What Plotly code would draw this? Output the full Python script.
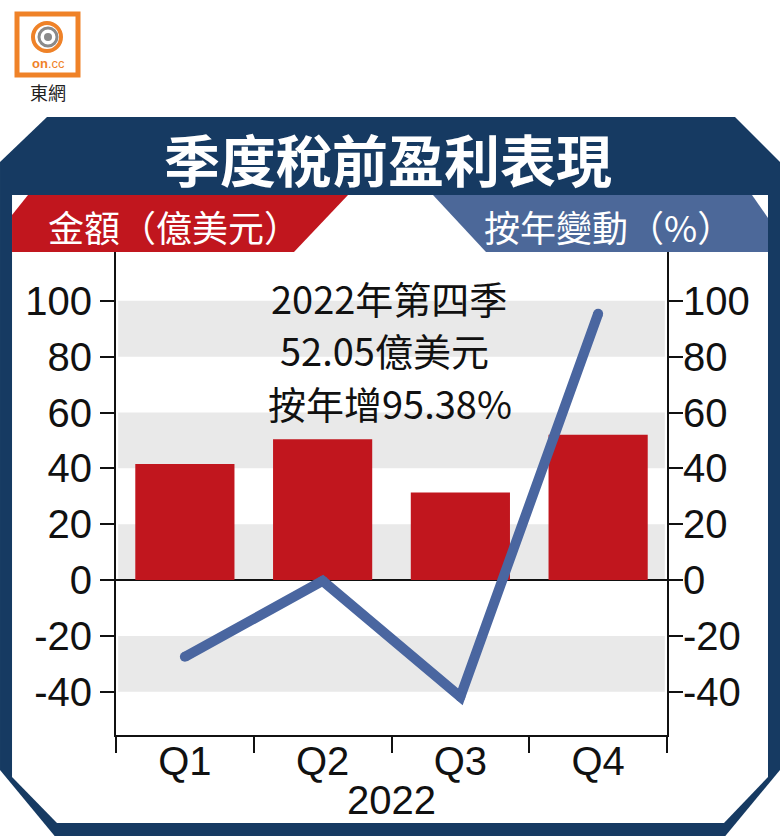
"""Quarterly pre-tax profit chart (on.cc style)."""

import plotly.graph_objects as go

# ---- data ----
QUARTERS = ["Q1", "Q2", "Q3", "Q4"]
PROFIT = [41.6, 50.4, 31.4, 52.05]          # 億美元
YOY_CHANGE = [-27.5, -0.3, -41.8, 95.38]     # %
Y_TICKS = [-40, -20, 0, 20, 40, 60, 80, 100]
Y_TICK_TEXT = [str(v) for v in Y_TICKS]
BANDS = [(-40, -20), (0, 20), (40, 60), (80, 100)]
YEAR = "2022"
TITLE = "季度稅前盈利表現"
LEFT_LABEL = "金額（億美元）"
RIGHT_LABEL = "按年變動（%）"
NOTE_LINES = ["2022年第四季", "52.05億美元", "按年增95.38%"]

NAVY = "#163a62"
RED = "#c1161e"
BANNER_BLUE = "#4c6899"
LINE_BLUE = "#4a66a0"
BAND = "#e9e9e9"
ORANGE = "#ef8228"

W, H = 780, 836
PL, PR, PT, PB = 116, 667, 252, 735
Y_RANGE = [-55.5, 117.5]

NUM_FONT = "Liberation Sans, Arial, sans-serif"
CJK_FONT = "Noto Sans CJK TC, sans-serif"


def px(x):
    return (x - PL) / (PR - PL)


def py(y):
    return (PB - y) / (PB - PT)


def poly(points):
    return "M " + " L ".join(f"{px(x):.4f},{py(y):.4f}" for x, y in points) + " Z"


fig = go.Figure()
fig.add_bar(x=QUARTERS, y=PROFIT, marker_color=RED, marker_line_width=0, width=0.72)
fig.add_scatter(
    x=QUARTERS, y=YOY_CHANGE, yaxis="y2", mode="lines+markers",
    line=dict(color=LINE_BLUE, width=10), marker=dict(color=LINE_BLUE, size=10),
)

shapes = [
    # frame
    dict(type="path", xref="paper", yref="paper", layer="below", line_width=0, fillcolor=NAVY,
         path=poly([(47, 117), (735, 117), (780, 162), (780, 770), (722, 840),
                    (58, 840), (0, 770), (0, 162)])),
    dict(type="path", xref="paper", yref="paper", layer="below", line_width=0, fillcolor="white",
         path=poly([(12, 195), (768, 195), (768, 777), (724, 823), (57, 823), (12, 777)])),
    # banners
    dict(type="path", xref="paper", yref="paper", line_width=0, fillcolor=RED,
         path=poly([(28, 195), (348, 195), (294, 252), (12, 252), (12, 215)])),
    dict(type="path", xref="paper", yref="paper", line_width=0, fillcolor=BANNER_BLUE,
         path=poly([(433, 195), (752, 195), (768, 218), (768, 252), (486, 252)])),
    # logo
    dict(type="rect", xref="paper", yref="paper", line=dict(color=ORANGE, width=5),
         fillcolor="white", x0=px(17), x1=px(78), y0=py(75), y1=py(14)),
    dict(type="circle", xref="paper", yref="paper", line=dict(color=ORANGE, width=4),
         x0=px(33), x1=px(61), y0=py(51), y1=py(23)),
    dict(type="circle", xref="paper", yref="paper", line=dict(color="#8a8a8a", width=3),
         x0=px(39), x1=px(57), y0=py(46), y1=py(28)),
    dict(type="circle", xref="paper", yref="paper", line_width=0, fillcolor="#8a8a8a",
         x0=px(44), x1=px(52), y0=py(41), y1=py(33)),
]
for lo, hi in BANDS:
    shapes.append(dict(type="rect", xref="paper", yref="y", layer="below", line_width=0,
                       fillcolor=BAND, x0=0.004, x1=0.996, y0=lo, y1=hi))

annotations = [
    dict(text=TITLE, x=px(388), y=py(158), font=dict(family=CJK_FONT, size=56, color="white",
                                                     weight="bold")),
    dict(text=LEFT_LABEL, x=px(174), y=py(226), font=dict(family=CJK_FONT, size=36, color="white")),
    dict(text=RIGHT_LABEL, x=px(608), y=py(226), font=dict(family=CJK_FONT, size=36, color="white")),
    dict(text=YEAR, x=0.5, y=py(800), font=dict(family=NUM_FONT, size=40, color="#111")),
    dict(text="<b>on</b>.cc", x=px(48), y=py(63), font=dict(family=NUM_FONT, size=13, color=ORANGE)),
    dict(text="東網", x=px(48), y=py(92), font=dict(family=CJK_FONT, size=18, color="#222")),
]
for line, (cx, cy) in zip(NOTE_LINES, [(389, 297), (384, 349), (390, 402)]):
    annotations.append(dict(text=line, x=px(cx), y=py(cy),
                            font=dict(family=CJK_FONT, size=38, color="#111")))
for a in annotations:
    a.update(xref="paper", yref="paper", showarrow=False, xanchor="center", yanchor="middle")

axis_common = dict(
    range=Y_RANGE, tickvals=Y_TICKS, ticktext=Y_TICK_TEXT, showgrid=False,
    showline=True, linecolor="#111", linewidth=2, ticks="outside", ticklen=14,
    tickwidth=2, tickcolor="#111", tickfont=dict(family=NUM_FONT, size=40, color="#111"),
)

fig.update_layout(
    width=W, height=H, autosize=False,
    margin=dict(l=PL, r=W - PR, t=PT, b=H - PB, pad=0),
    paper_bgcolor="white", plot_bgcolor="white",
    showlegend=False, bargap=0.28,
    shapes=shapes, annotations=annotations,
    xaxis=dict(
        type="category", range=[-0.5, 3.5], tickson="boundaries", showgrid=False,
        showline=True, linecolor="#111", linewidth=2, ticks="outside", ticklen=16,
        tickwidth=2, tickcolor="#111", tickfont=dict(family=NUM_FONT, size=40, color="#111"),
        ticklabelstandoff=-10,
    ),
    yaxis=dict(**axis_common, zeroline=True, zerolinecolor="#111", zerolinewidth=2),
    yaxis2=dict(**axis_common, overlaying="y", side="right", zeroline=False,
                ticklabelstandoff=-8),
)

# the page body has a default 8px margin; drop it so the figure fills the window
fig.write_html("out.html", config={"displayModeBar": False},
               post_script="document.body.style.margin='0';")
